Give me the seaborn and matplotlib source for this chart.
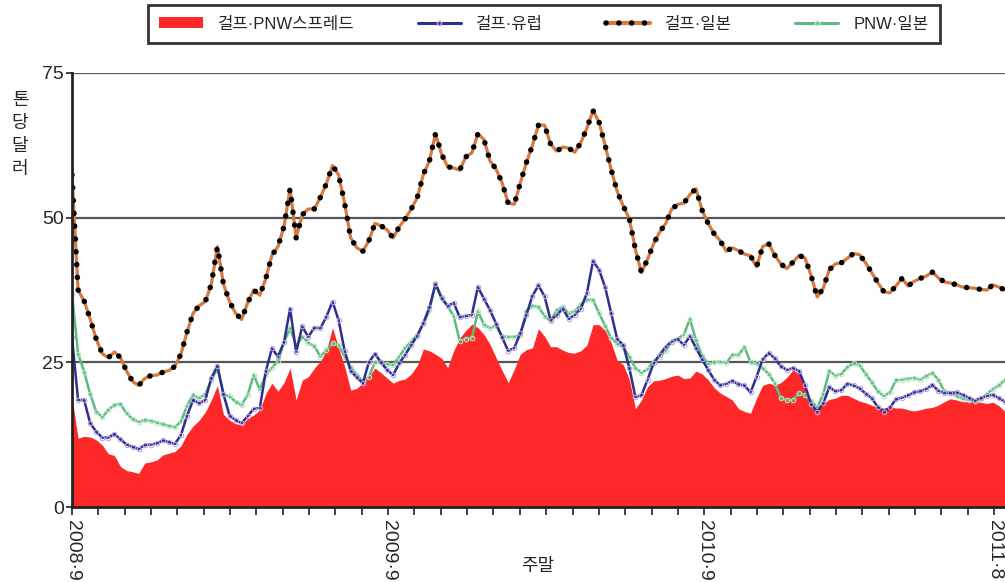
import numpy as np
import pandas as pd
import matplotlib
matplotlib.use("Agg")
import matplotlib.pyplot as plt
import seaborn as sns
from matplotlib.patches import Patch
from matplotlib.lines import Line2D

# ---------------- data (weekly, Sep 2008 -> Aug 2011), USD per tonne ----------------
gulf_japan = [57.4, 37.5, 35.6, 32.5, 29.0, 26.5, 25.8, 26.8, 25.8, 23.5,
              21.7, 21.0, 22.2, 22.7, 22.8, 23.3, 23.6, 24.3, 26.5, 30.3,
              33.5, 34.8, 35.5, 38.5, 45.0, 38.5, 35.5, 33.5, 32.4, 35.3,
              37.5, 36.6, 39.5, 43.5, 45.0, 48.5, 55.0, 46.5, 50.5, 51.5,
              51.5, 53.5, 55.9, 59.0, 57.4, 52.5, 46.5, 44.8, 44.2, 46.0,
              49.0, 48.6, 47.9, 46.5, 48.4, 49.8, 51.5, 53.5, 57.5, 59.8,
              64.5, 61.0, 58.8, 58.6, 58.2, 60.5, 61.2, 64.5, 63.5, 59.8,
              58.4, 56.0, 52.5, 52.3, 56.0, 59.5, 62.5, 66.0, 66.0, 62.7,
              61.5, 62.2, 62.0, 61.3, 63.0, 65.5, 68.5, 66.5, 62.5, 58.3,
              54.5, 52.0, 49.8, 44.5, 40.5, 42.8, 45.5, 47.5, 49.0, 51.5,
              52.3, 52.5, 54.0, 55.0, 51.3, 49.0, 47.2, 46.0, 44.2, 44.8,
              44.3, 43.7, 43.4, 41.5, 45.0, 45.5, 43.5, 42.0, 41.2, 42.3,
              43.5, 43.0, 40.0, 36.3, 37.8, 41.0, 42.0, 42.2, 43.0, 43.8,
              43.6, 42.2, 40.5, 38.8, 37.2, 37.0, 38.2, 39.5, 38.2, 39.0,
              39.5, 39.9, 40.6, 39.6, 38.9, 38.7, 38.4, 38.0, 37.9, 37.8,
              37.6, 37.5, 38.4, 38.0, 37.5]

gulf_europe = [29.3, 18.5, 18.5, 14.5, 13.0, 12.0, 12.0, 12.6, 11.7, 10.8,
               10.4, 10.0, 10.7, 10.8, 11.0, 11.5, 11.2, 10.9, 12.5, 15.8,
               18.5, 17.9, 18.5, 22.3, 24.4, 19.5, 15.8, 15.0, 14.5, 15.7,
               17.0, 17.1, 23.5, 27.4, 26.0, 28.5, 34.3, 26.8, 31.2, 29.4,
               31.0, 30.9, 32.9, 35.5, 32.3, 27.0, 23.5, 22.4, 21.4, 25.0,
               26.5, 25.0, 23.7, 22.8, 24.8, 26.3, 28.0, 29.6, 31.8, 34.5,
               38.5, 36.1, 34.7, 35.3, 32.8, 33.0, 33.2, 38.0, 36.0, 34.0,
               31.7, 29.3, 27.0, 27.5, 30.0, 33.2, 36.5, 38.3, 36.4, 32.3,
               33.1, 34.3, 32.5, 33.2, 34.3, 37.0, 42.5, 41.0, 38.0, 33.5,
               29.0, 28.0, 24.0, 19.0, 19.3, 22.0, 24.8, 26.3, 27.7, 28.6,
               29.0, 28.0, 29.5, 27.5, 25.5, 23.7, 22.0, 21.0, 21.3, 21.8,
               21.2, 21.0, 19.8, 22.5, 25.5, 26.6, 25.7, 24.3, 23.7, 24.0,
               23.5, 21.0, 17.8, 16.5, 17.9, 20.7, 20.0, 20.2, 21.3, 21.0,
               20.5, 19.6, 18.8, 17.3, 16.4, 17.2, 18.6, 18.9, 19.3, 19.8,
               20.0, 20.4, 21.1, 20.1, 19.7, 19.7, 19.8, 19.4, 18.9, 18.4,
               18.8, 19.2, 19.4, 18.8, 18.2]

pnw_japan = [36.8, 26.5, 23.4, 19.5, 16.5, 15.5, 16.8, 17.6, 17.8, 16.2,
             15.2, 14.7, 15.0, 14.9, 14.6, 14.3, 14.0, 13.8, 14.8, 17.5,
             19.4, 18.8, 19.5, 21.9, 24.0, 19.5, 19.1, 18.2, 17.6, 19.4,
             22.8, 20.3, 22.9, 24.1, 25.2, 28.5, 30.9, 27.8, 29.4, 28.4,
             27.8, 26.0, 27.1, 28.3, 28.0, 26.0, 24.2, 22.8, 21.7, 22.5,
             25.0, 25.0, 24.7, 24.5, 26.0, 27.5, 28.6, 29.8, 31.6, 34.0,
             38.7, 36.3, 34.7, 33.0, 28.7, 29.1, 29.2, 33.8, 31.5, 31.0,
             31.3, 29.5, 29.4, 29.4, 29.7, 33.8, 34.8, 34.6, 33.0, 32.1,
             34.0, 34.6, 33.4, 33.9, 35.0, 35.8, 35.8, 33.5, 31.3, 29.2,
             28.2, 27.6, 26.0, 24.0, 23.2, 23.8, 25.2, 26.0, 27.0, 28.7,
             29.1, 29.8, 32.5, 28.8, 26.2, 24.7, 25.0, 25.1, 24.9, 26.3,
             26.3, 27.6, 25.0, 24.8, 24.0, 23.0, 21.4, 18.8, 18.5, 18.5,
             19.7, 19.3, 18.3, 17.2, 19.5, 23.5, 22.7, 23.0, 24.2, 24.8,
             24.5, 23.0, 21.6, 20.0, 19.2, 19.8, 21.9, 22.0, 22.2, 22.3,
             22.0, 22.6, 23.2, 22.0, 20.0, 19.7, 19.2, 18.7, 18.5, 18.3,
             18.6, 19.5, 20.4, 21.0, 22.0]

gulf_pnw_spread = [19.0, 11.9, 12.2, 12.1, 11.6, 10.7, 9.2, 8.9, 7.0, 6.3,
                   6.1, 5.8, 7.6, 7.8, 8.1, 9.0, 9.3, 9.6, 10.6, 12.6,
                   14.0, 15.0, 16.4, 18.5, 21.0, 16.0, 15.0, 14.4, 14.2, 15.3,
                   15.9, 16.8, 19.6, 21.4, 20.0, 21.5, 24.0, 18.5, 21.9, 22.5,
                   24.0, 25.2, 27.1, 31.0, 27.5, 24.3, 20.2, 20.5, 21.4, 22.5,
                   24.0, 23.2, 22.3, 21.4, 21.9, 22.1, 23.0, 24.5, 27.3, 27.0,
                   26.4, 25.7, 24.1, 27.0, 29.2, 30.5, 31.6, 31.0, 29.8, 28.1,
                   25.8, 23.6, 21.5, 23.8, 26.4, 27.2, 27.5, 30.8, 29.5, 27.7,
                   27.7, 27.1, 26.7, 26.6, 27.0, 28.0, 31.5, 31.5, 30.5, 28.4,
                   25.3, 24.6, 22.0, 17.0, 18.5, 20.8, 21.8, 21.9, 22.2, 22.6,
                   22.8, 22.2, 22.3, 23.5, 23.0, 22.0, 20.6, 19.7, 19.1, 18.5,
                   17.0, 16.5, 16.2, 18.8, 21.0, 21.4, 21.1, 21.5, 22.4, 23.7,
                   23.0, 20.5, 17.3, 16.5, 17.9, 18.6, 18.8, 19.3, 19.3, 18.8,
                   18.3, 18.0, 17.6, 17.2, 17.1, 17.3, 17.1, 17.1, 16.8, 16.6,
                   16.8, 17.1, 17.2, 17.6, 18.2, 18.7, 18.5, 18.2, 18.2, 18.2,
                   18.1, 17.9, 18.1, 17.5, 16.5]

tick_labels = ["2008·9", "2009·9", "2010·9", "2011·8"]
tick_label_months = [0, 12, 24, 35]
series_names = ["걸프·PNW스프레드", "걸프·유럽", "걸프·일본", "PNW·일본"]

# ---------------- figure ----------------
sns.set_style("white")
plt.rcParams["font.family"] = ["Liberation Sans", "Noto Sans CJK KR", "DejaVu Sans"]

week = np.arange(len(gulf_japan))
df = pd.DataFrame({"week": week, "spread": gulf_pnw_spread, "europe": gulf_europe,
                   "japan": gulf_japan, "pnw": pnw_japan})

W, H = 1005, 582
fig = plt.figure(figsize=(W / 100, H / 100), dpi=100)
ax = fig.add_axes([72 / W, 1 - 507 / H, (1008 - 72) / W, (507 - 73) / H])

RED = "#FF2828"
NAVY = "#2E2F8E"
ORANGE = "#D67A42"
GREEN = "#5DBB82"
DOTS = (0, (0.01, 2.3))

ax.fill_between(df["week"], 0, df["spread"], color=RED, linewidth=0, zorder=2)
sns.lineplot(data=df, x="week", y="pnw", ax=ax, color=GREEN, linewidth=1.8,
             marker="o", markersize=3.2, markerfacecolor="none",
             markeredgecolor="#B8E6C2", markeredgewidth=0.8, zorder=3)
sns.lineplot(data=df, x="week", y="europe", ax=ax, color=NAVY, linewidth=1.8,
             marker="o", markersize=3.2, markerfacecolor="none",
             markeredgecolor="#B7A6E0", markeredgewidth=0.8, zorder=4)
sns.lineplot(data=df, x="week", y="japan", ax=ax, color=ORANGE, linewidth=2.3, zorder=5)
ax.plot(df["week"], df["japan"], color="black", linewidth=4.0,
        linestyle=DOTS, dash_capstyle="round", zorder=6)

weeks_per_month = 52.18 / 12
ax.set_xlim(0, 154.5)
ax.set_ylim(0, 75)
ax.set_yticks([0, 25, 50, 75])
ax.set_yticklabels(["0", "25", "50", "75"], fontsize=14)
ax.set_xticks([m * weeks_per_month for m in range(36)])
lbls = [""] * 36
for m, t in zip(tick_label_months, tick_labels):
    lbls[m] = t
ax.set_xticklabels(lbls, rotation=-90, fontsize=14, ha="center", va="top")
ax.tick_params(axis="x", direction="out", length=6, width=1.2, color="#222222", pad=3, bottom=True)
ax.tick_params(axis="y", direction="out", length=4, width=1.2, color="#222222", pad=2, left=True)

for yv in [25, 50, 75]:
    ax.axhline(yv, color="#555555", linewidth=1.6, zorder=1)
for s in ["top", "right"]:
    ax.spines[s].set_visible(False)
ax.spines["left"].set_color("#222222")
ax.spines["left"].set_linewidth(2)
ax.spines["bottom"].set_color("#222222")
ax.spines["bottom"].set_linewidth(2)
ax.spines["left"].set_zorder(7)
ax.set_xlabel("")
ax.set_ylabel("")

fig.text(20 / W, 1 - 135 / H, "톤\n당\n달\n러", ha="center", va="center",
         fontsize=13, linespacing=1.45)
fig.text(538 / W, 1 - 566 / H, "주말", ha="center", va="center", fontsize=13)

handles = [
    Patch(facecolor=RED, edgecolor="none"),
    Line2D([], [], color=NAVY, linewidth=2.2, marker="o", markersize=3,
           markerfacecolor="none", markeredgecolor="#B7A6E0"),
    (Line2D([], [], color=ORANGE, linewidth=3.0),
     Line2D([], [], color="black", linewidth=4.0, linestyle=DOTS,
            dash_capstyle="round")),
    Line2D([], [], color=GREEN, linewidth=2.2, marker="o", markersize=3,
           markerfacecolor="none", markeredgecolor="#B8E6C2"),
]
leg = fig.legend(handles, series_names, loc="center", bbox_to_anchor=(544 / W, 1 - 24 / H),
                 ncol=4, frameon=True, fancybox=False, fontsize=12,
                 columnspacing=3.8, handlelength=2.6, handleheight=0.6, handletextpad=0.9,
                 borderpad=0.7, borderaxespad=0)
leg.get_frame().set_edgecolor("black")
leg.get_frame().set_linewidth(2)

fig.savefig("out.png", dpi=100)
